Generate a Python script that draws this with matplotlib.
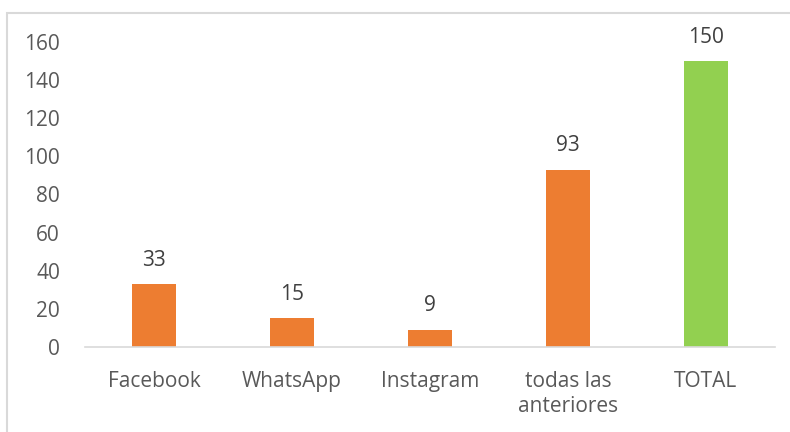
import matplotlib.pyplot as plt
from matplotlib.patches import Rectangle

categorias = ["Facebook", "WhatsApp", "Instagram", "todas las\nanteriores", "TOTAL"]
valores = [33, 15, 9, 93, 150]
colores = ["#ED7D31", "#ED7D31", "#ED7D31", "#ED7D31", "#92D050"]

plt.rcParams['font.family'] = ['Open Sans', 'DejaVu Sans']

fig = plt.figure(figsize=(7.9, 4.32), dpi=100)
ax = fig.add_axes([0.1076, 0.1968, 0.8734, 0.706])

x = range(len(categorias))
barras = ax.bar(x, valores, width=0.32, color=colores)

# etiquetas de valor encima de cada barra
for b, v in zip(barras, valores):
    ax.text(b.get_x() + b.get_width() / 2, v + 7, str(v), ha="center", va="bottom",
            fontsize=15, color="#404040")

ax.set_xlim(-0.5, len(categorias) - 0.5)
ax.set_ylim(0, 160)
ax.set_yticks(range(0, 161, 20))
ax.set_xticks(list(x))
ax.set_xticklabels(categorias, fontsize=15, color="#595959", linespacing=1.25, va="top")
ax.tick_params(axis="y", labelsize=15, labelcolor="#595959", length=0, pad=18)
ax.tick_params(axis="x", length=0, pad=17)

for lado in ["top", "right", "left"]:
    ax.spines[lado].set_visible(False)
ax.spines["bottom"].set_color("#D9D9D9")
ax.spines["bottom"].set_linewidth(1.2)

# borde del área del gráfico
fig.patches.append(Rectangle((7 / 790, -0.1), 1.2, 1 - 13 / 432 + 0.1, transform=fig.transFigure,
                             fill=False, edgecolor="#D9D9D9", linewidth=1.5))

fig.savefig("out.png", dpi=100)
